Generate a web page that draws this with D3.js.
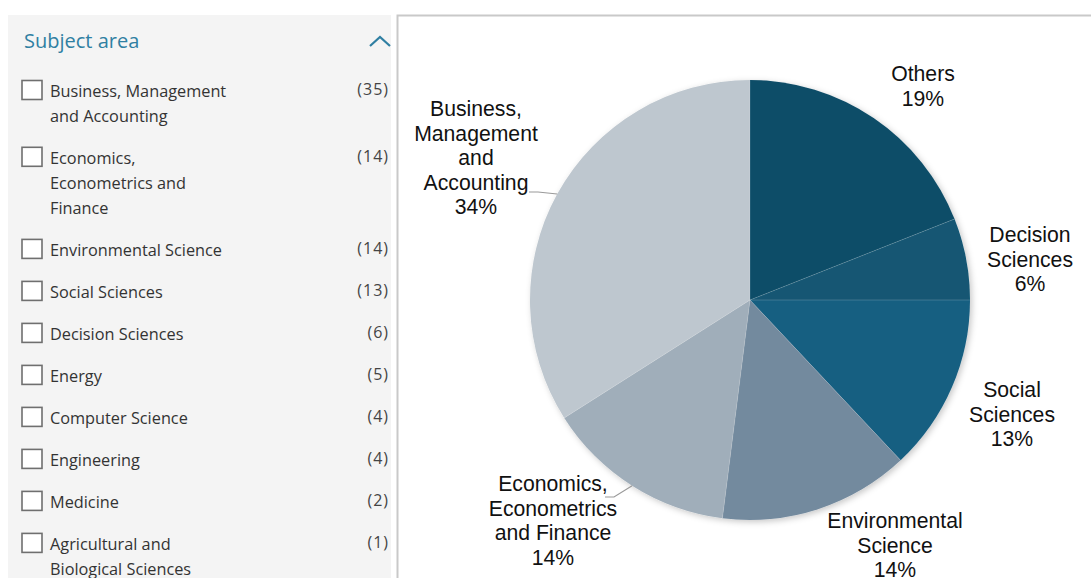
<!DOCTYPE html>
<html>
<head>
<meta charset="utf-8">
<script src="https://cdn.jsdelivr.net/npm/d3@7"></script>
<style>
  html, body { margin: 0; padding: 0; background: #ffffff; }
  svg { display: block; }
</style>
</head>
<body>
<svg id="chart" width="1091" height="578"></svg>
<script>
// Sidebar filter list: subject names (line breaks as shown) and document counts
const subjectNames = [
  "Business, Management\nand Accounting",
  "Economics,\nEconometrics and\nFinance",
  "Environmental Science",
  "Social Sciences",
  "Decision Sciences",
  "Energy",
  "Computer Science",
  "Engineering",
  "Medicine",
  "Agricultural and\nBiological Sciences"
];
const subjectCounts = [35, 14, 14, 13, 6, 5, 4, 4, 2, 1];

// Pie slices, clockwise from 12 o'clock
const sliceLabels = [
  "Others",
  "Decision\nSciences",
  "Social\nSciences",
  "Environmental\nScience",
  "Economics,\nEconometrics\nand Finance",
  "Business,\nManagement\nand\nAccounting"
];
const sliceShares = [19, 6, 13, 14, 14, 34];
const sliceColors = ["#0f4d68", "#125673", "#185f81", "#738a9e", "#a0aeba", "#bec7cf"];

const svg = d3.select("#chart");

// ---------- Sidebar ----------
const side = svg.append("g");
side.append("rect")
  .attr("x", 8).attr("y", 15).attr("width", 383).attr("height", 563)
  .attr("fill", "#f4f4f4");

side.append("text")
  .attr("x", 24).attr("y", 48)
  .attr("font-family", "'Open Sans', sans-serif")
  .attr("font-size", 20)
  .attr("fill", "#2f7fa2")
  .text("Subject area");

// collapse chevron
side.append("path")
  .attr("d", "M370,46 L380,37 L390,46")
  .attr("fill", "none")
  .attr("stroke", "#2f7fa2")
  .attr("stroke-width", 2.2);

const lineH = 25.3;
let baseY = 97;
subjectNames.forEach((name, i) => {
  const lines = name.split("\n");
  const row = side.append("g");
  row.append("rect")
    .attr("x", 22).attr("y", baseY - 16.5)
    .attr("width", 20).attr("height", 19)
    .attr("fill", "#ffffff")
    .attr("stroke", "#6f6f6f")
    .attr("stroke-width", 1.6);
  const t = row.append("text")
    .attr("x", 50).attr("y", baseY)
    .attr("font-family", "'Open Sans', sans-serif")
    .attr("font-size", 16.3)
    .attr("fill", "#333");
  lines.forEach((ln, j) => {
    t.append("tspan").attr("x", 50).attr("dy", j === 0 ? 0 : lineH).text(ln);
  });
  row.append("text")
    .attr("x", 389).attr("y", baseY - 2)
    .attr("text-anchor", "end")
    .attr("font-family", "'Open Sans', sans-serif")
    .attr("font-size", 16)
    .attr("letter-spacing", 1)
    .attr("fill", "#444")
    .text("(" + subjectCounts[i] + ")");
  baseY += 42 + lineH * (lines.length - 1) - (lines.length > 1 ? 0.5 : 0);
});

// ---------- Chart panel ----------
svg.append("path")
  .attr("d", "M397.5,578 V15.5 H1091")
  .attr("fill", "none")
  .attr("stroke", "#c9c9c9")
  .attr("stroke-width", 2);

const cx = 750, cy = 300, r = 220;

const defs = svg.append("defs");
const shadow = defs.append("filter").attr("id", "pieShadow")
  .attr("x", "-10%").attr("y", "-10%").attr("width", "120%").attr("height", "120%");
shadow.append("feDropShadow")
  .attr("dx", 2).attr("dy", 2).attr("stdDeviation", 3)
  .attr("flood-color", "#000").attr("flood-opacity", 0.22);

const pie = d3.pie().sort(null).value(d => d)(sliceShares);
const arc = d3.arc().innerRadius(0).outerRadius(r);

const pieG = svg.append("g").attr("transform", `translate(${cx},${cy})`);
pieG.append("g").attr("filter", "url(#pieShadow)")
  .selectAll("path")
  .data(pie)
  .join("path")
  .attr("d", arc)
  .attr("fill", (d, i) => sliceColors[i]);

// faint slice separators
pieG.append("g")
  .selectAll("line")
  .data(pie)
  .join("line")
  .attr("x1", 0).attr("y1", 0)
  .attr("x2", d => r * Math.sin(d.startAngle))
  .attr("y2", d => -r * Math.cos(d.startAngle))
  .attr("stroke", "#ffffff")
  .attr("stroke-opacity", 0.22)
  .attr("stroke-width", 0.8);

// label placement: [x, first-line baseline]
const labelPos = [
  [923, 81],
  [1030, 242],
  [1012, 397],
  [895, 528],
  [553, 491],
  [476, 116]
];
const labelLH = 24.6;

const labels = svg.append("g")
  .attr("font-family", "'Liberation Sans', Arial, sans-serif")
  .attr("font-size", 21.2)
  .attr("fill", "#111")
  .attr("text-anchor", "middle");

sliceLabels.forEach((lab, i) => {
  const lines = lab.split("\n").concat([sliceShares[i] + "%"]);
  const t = labels.append("text")
    .attr("x", labelPos[i][0]).attr("y", labelPos[i][1]);
  lines.forEach((ln, j) => {
    t.append("tspan").attr("x", labelPos[i][0]).attr("dy", j === 0 ? 0 : labelLH).text(ln);
  });
});

// leader lines for the two labels set away from the pie edge
function edgePoint(i, frac) {
  const d = pie[i];
  const a = d.startAngle + (d.endAngle - d.startAngle) * frac;
  return [cx + r * Math.sin(a), cy - r * Math.cos(a)];
}
const leaders = svg.append("g")
  .attr("fill", "none")
  .attr("stroke", "#9a9a9a")
  .attr("stroke-width", 1.2);
const pBus = edgePoint(5, 0.5);
leaders.append("path").attr("d", `M529,192 H538 L${pBus[0]},${pBus[1]}`);
const pEco = edgePoint(4, 0.5);
leaders.append("path").attr("d", `M605,497 H614 L${pEco[0]},${pEco[1]}`);
</script>
</body>
</html>
